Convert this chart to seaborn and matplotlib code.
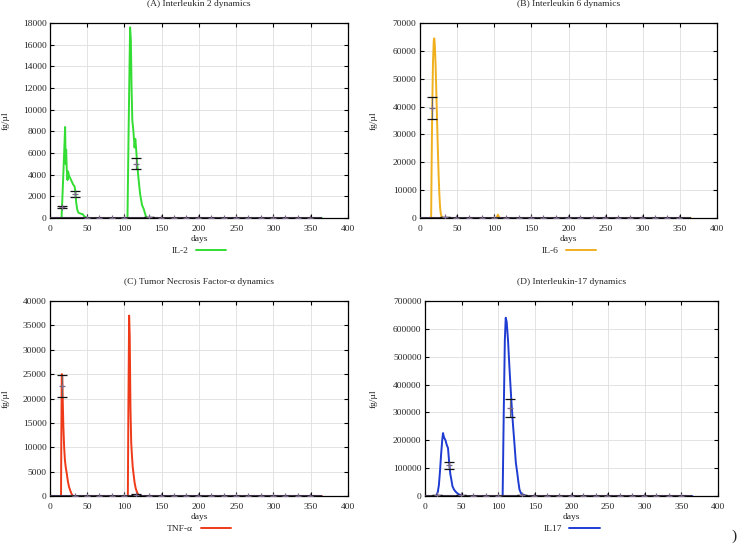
import matplotlib
matplotlib.use('Agg')
import matplotlib.pyplot as plt
import numpy as np
import seaborn as sns

# simulated curves (day, fg/ul)
il2_days = [0, 15.5, 17, 19, 20.3, 21, 21.7, 22.5, 23.5, 24.3, 25.5, 27, 29, 31, 33, 34, 35, 36.5, 38, 41, 44, 46, 50,
            104, 105.5, 107.5, 108.5, 109.5, 110.5, 112, 113.5, 114.5, 115.5, 117, 119, 121, 123.5, 126, 128, 130, 365]
il2_vals = [0, 0, 2500, 6000, 8400, 5000, 6300, 4500, 3500, 4300, 3900, 3700, 3400, 3100, 2900, 2500, 1500, 800, 500, 400, 350, 150, 0,
            0, 8000, 17600, 16500, 12000, 9000, 8000, 6500, 7300, 6500, 5000, 3500, 2200, 1200, 800, 300, 0, 0]

il6_days = [0, 15, 15.5, 16.5, 17.5, 18.5, 19.2, 20, 21, 22, 23, 24, 25, 26, 27, 28, 29.5, 31, 103, 105, 107, 365]
il6_vals = [0, 0, 15000, 40000, 56000, 63500, 64500, 62000, 55000, 45000, 35000, 25000, 16000, 9000, 4000, 1500, 300, 0,
            0, 1200, 0, 0]

tnf_days = [0, 14.8, 15.2, 15.8, 16.5, 17.2, 18, 19, 20, 21.2, 22.4, 24, 25.5, 27, 29, 31,
            104.5, 105.2, 106.2, 107, 108, 109, 109.8, 111, 112, 113.5, 115, 116.5, 118, 120, 365]
tnf_vals = [0, 0, 12000, 25000, 24500, 19000, 14000, 10000, 7400, 5800, 4700, 3000, 1900, 1200, 400, 0,
            0, 18000, 37000, 33000, 18000, 11000, 8800, 6000, 4700, 2800, 1600, 900, 400, 0, 0]

il17_days = [0, 15.5, 17.5, 19, 20.5, 22, 23.5, 24.6, 26, 28, 29.5, 31.4, 33, 34.5, 36, 37.5, 39.6, 42, 44.5, 47, 50,
             106, 107.5, 109, 110.2, 111.5, 113.3, 115.5, 117.8, 120, 122.4, 124, 126, 127.5, 129, 131, 133.7, 138, 365]
il17_vals = [0, 0, 15000, 40000, 90000, 150000, 200000, 226000, 210000, 200000, 185000, 172000, 120000, 80000, 58000, 35000,
             23000, 15000, 9000, 5000, 0,
             0, 300000, 560000, 640000, 625000, 561000, 450000, 346000, 260000, 178000, 120000, 82000, 50000, 23000,
             10000, 5000, 0, 0]

# measured points with spread
obs_days = [16, 33, 49, 66, 83, 99, 116, 133, 149, 166, 183, 199, 216, 233, 249, 266, 283, 299, 316, 333, 349]
il2_mean = [1000, 2200, 30, 0, 0, 0, 5000, 50, 0, 0, 0, 0, 0, 0, 0, 0, 0, 0, 0, 0, 0]
il2_sd = [100, 250, 0, 0, 0, 0, 500, 0, 0, 0, 0, 0, 0, 0, 0, 0, 0, 0, 0, 0, 0]
il6_mean = [39500, 300, 0, 0, 0, 0, 0, 0, 0, 0, 0, 0, 0, 0, 0, 0, 0, 0, 0, 0, 0]
il6_sd = [4000, 0, 0, 0, 0, 0, 0, 0, 0, 0, 0, 0, 0, 0, 0, 0, 0, 0, 0, 0, 0]
tnf_mean = [22550, 0, 0, 0, 0, 0, 300, 0, 0, 0, 0, 0, 0, 0, 0, 0, 0, 0, 0, 0, 0]
tnf_sd = [2250, 0, 0, 0, 0, 0, 100, 0, 0, 0, 0, 0, 0, 0, 0, 0, 0, 0, 0, 0, 0]
il17_mean = [3000, 110000, 3000, 0, 0, 0, 315000, 2000, 0, 0, 0, 0, 0, 0, 0, 0, 0, 0, 0, 0, 0]
il17_sd = [0, 12000, 0, 0, 0, 0, 32000, 0, 0, 0, 0, 0, 0, 0, 0, 0, 0, 0, 0, 0, 0]

sns.set_theme(style='whitegrid')
plt.rcParams['font.family'] = ['Liberation Serif', 'DejaVu Serif']
FS = 6.8

fig = plt.figure(figsize=(7.38, 5.46), dpi=100)
W, H = 738, 546


def panel(rect, days, vals, color, mean, sd, ymax, ystep, title, label, ylab_x):
    l, t, r, b = rect
    ax = fig.add_axes([l / W, 1 - b / H, (r - l) / W, (b - t) / H])
    ax.set_facecolor('white')
    sns.lineplot(x=days, y=vals, ax=ax, color=color, lw=1.4, estimator=None, sort=False,
                 label=label, zorder=3)
    ax.hlines(0, days[0], days[-1], color='#3e3448', lw=1.5, zorder=4)
    eb = ax.errorbar(obs_days, mean, yerr=sd, fmt='+', color='#7a6a88', ms=4.5, mew=0.9,
                     ecolor='#6a6a6a', elinewidth=0.8, capsize=3.8, capthick=2.0, zorder=5)
    # caps are drawn as markers, so recolour the marker edge
    for cap in eb[1]:
        cap.set_markeredgecolor('#111111')
    ax.set_xlim(0, 400)
    ax.set_ylim(0, ymax)
    ax.set_xticks(np.arange(0, 401, 50))
    ax.set_yticks(np.arange(0, ymax + 1, ystep))
    ax.grid(True, color='#dedede', lw=0.6)
    for s in ax.spines.values():
        s.set_color('black')
        s.set_linewidth(0.9)
    ax.tick_params(direction='in', length=3, width=0.8, color='black', labelsize=FS,
                   top=True, right=True, bottom=True, left=True)
    ax.tick_params(axis='x', pad=5)
    ax.tick_params(axis='y', pad=2.5)
    ax.set_xlabel('days', fontsize=FS)
    ax.xaxis.set_label_coords(0.5, -0.085)
    ax.set_ylabel('fg/µl', fontsize=FS)
    ax.yaxis.set_label_coords(ylab_x, 0.5)
    ax.legend(loc='center', bbox_to_anchor=(0.5, -0.17), frameon=False, markerfirst=False,
              fontsize=FS, handlelength=3.2, handletextpad=0.8)
    fig.text((l + r) / 2 / W, 1 - (t - 19) / H, title, ha='center', va='center', fontsize=FS)
    return ax


panel((50, 23, 348, 218), il2_days, il2_vals, '#33dd33', il2_mean, il2_sd, 18000, 2000,
      '(A) Interleukin 2 dynamics', 'IL-2', -0.135)
panel((420, 23, 717, 218), il6_days, il6_vals, '#f0b01e', il6_mean, il6_sd, 70000, 10000,
      '(B) Interleukin 6 dynamics', 'IL-6', -0.142)
panel((50, 301, 348, 496), tnf_days, tnf_vals, '#ee3a18', tnf_mean, tnf_sd, 40000, 5000,
      '(C) Tumor Necrosis Factor-α dynamics', 'TNF-α', -0.135)
panel((425, 301, 718, 496), il17_days, il17_vals, '#1e3cd2', il17_mean, il17_sd, 700000, 100000,
      '(D) Interleukin-17 dynamics', 'IL17', -0.162)

fig.text(734 / W, 1 - 536 / H, ')', ha='center', va='center', fontsize=11)

fig.savefig('out.png', dpi=100)
